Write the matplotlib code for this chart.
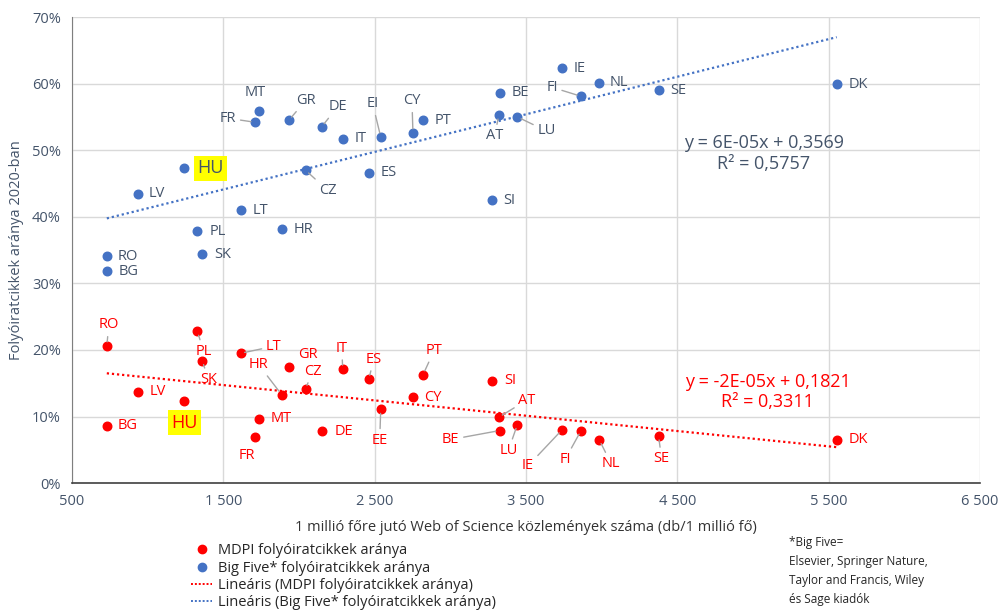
import numpy as np
import matplotlib.pyplot as plt
from matplotlib.lines import Line2D

plt.rcParams['font.family'] = ['Open Sans', 'DejaVu Sans']

# countries (same order for both series); Estonia is labelled "EI" in the Big Five series
countries = ['RO', 'BG', 'LV', 'HU', 'PL', 'SK', 'LT', 'FR', 'MT', 'HR', 'GR', 'CZ', 'DE', 'IT',
             'ES', 'EE', 'CY', 'PT', 'SI', 'AT', 'BE', 'LU', 'IE', 'FI', 'NL', 'SE', 'DK']
big5_labels = ['RO', 'BG', 'LV', 'HU', 'PL', 'SK', 'LT', 'FR', 'MT', 'HR', 'GR', 'CZ', 'DE', 'IT',
               'ES', 'EI', 'CY', 'PT', 'SI', 'AT', 'BE', 'LU', 'IE', 'FI', 'NL', 'SE', 'DK']
# Web of Science publications per million inhabitants
wos = [730, 730, 937, 1243, 1329, 1361, 1614, 1710, 1733, 1885, 1933, 2043, 2149, 2289,
       2461, 2540, 2753, 2820, 3278, 3320, 3327, 3443, 3738, 3864, 3984, 4376, 5553]
mdpi = [0.206, 0.086, 0.137, 0.124, 0.228, 0.184, 0.195, 0.069, 0.097, 0.133, 0.175, 0.141, 0.078, 0.171,
        0.156, 0.111, 0.129, 0.163, 0.154, 0.099, 0.079, 0.088, 0.080, 0.079, 0.065, 0.071, 0.065]
big5 = [0.341, 0.318, 0.435, 0.473, 0.378, 0.344, 0.410, 0.542, 0.559, 0.381, 0.545, 0.470, 0.535, 0.517,
        0.466, 0.520, 0.526, 0.545, 0.425, 0.553, 0.586, 0.550, 0.623, 0.581, 0.601, 0.590, 0.599]

x_ticks = [500, 1500, 2500, 3500, 4500, 5500, 6500]
y_ticks = [0, 0.1, 0.2, 0.3, 0.4, 0.5, 0.6, 0.7]

# label offsets in pixels (dx right, dy down) and whether a leader line is drawn
big5_off = {
    'RO': (21, 0, 0), 'BG': (22, 0, 0), 'LV': (19, 0, 0), 'HU': (26, 0, 0), 'PL': (20, 0, 0),
    'SK': (20, 0, 0), 'LT': (20, 0, 0), 'FR': (-27, -4, 1), 'MT': (-3, -18, 0), 'HR': (22, 0, 0),
    'GR': (17, -20, 1), 'CZ': (22, 20, 1), 'DE': (16, -20, 1), 'IT': (18, 0, 0), 'ES': (20, 0, 0),
    'EI': (-8, -33, 1), 'CY': (-1, -32, 1), 'PT': (20, 0, 0), 'SI': (17, 0, 0), 'AT': (-4, 21, 1),
    'BE': (21, 0, 0), 'LU': (29, 14, 1), 'IE': (18, 0, 0), 'FI': (-29, -9, 1), 'NL': (20, 0, 0),
    'SE': (20, 0, 0), 'DK': (22, 0, 0),
}
mdpi_off = {
    'RO': (2, -21, 1), 'BG': (21, 0, 0), 'LV': (20, 0, 0), 'HU': (0, 22, 0), 'PL': (6, 20, 1),
    'SK': (6, 19, 1), 'LT': (33, -7, 1), 'FR': (-8, 18, 0), 'MT': (23, 0, 0), 'HR': (-23, -30, 1),
    'GR': (19, -12, 0), 'CZ': (7, -18, 1), 'DE': (22, 0, 0), 'IT': (-1, -21, 1), 'ES': (5, -20, 1),
    'EE': (-1, 31, 1), 'CY': (20, 0, 0), 'PT': (11, -24, 1), 'SI': (18, 0, 0), 'AT': (28, -17, 1),
    'BE': (-49, 9, 1), 'LU': (-9, 26, 1), 'IE': (-34, 36, 1), 'FI': (-16, 29, 1), 'NL': (12, 24, 1),
    'SE': (3, 23, 1), 'DK': (22, 0, 0),
}

BLUE = '#4472c4'
RED = '#ff0000'
BLUE_TXT = '#44546a'
GRID = '#d9d9d9'

fig = plt.figure(figsize=(10, 6.1), dpi=100)
ax = fig.add_axes([0.072, 0.208, 0.908, 0.764])

x = np.array(wos, dtype=float)

ax.scatter(x, mdpi, s=38, color=RED, zorder=3)
ax.scatter(x, big5, s=38, color=BLUE, zorder=3)

# linear trend lines
xs = np.array([x.min(), x.max()])
for vals, col in [(mdpi, RED), (big5, BLUE)]:
    k, b = np.polyfit(x, vals, 1)
    ax.plot(xs, k * xs + b, color=col, lw=1.6, ls=(0, (1, 1.3)), zorder=2)


def label(names, vals, offs, col):
    for name, xv, yv in zip(names, x, vals):
        dx, dy, lead = offs[name]
        kw = dict(textcoords='offset pixels', xytext=(dx, -dy), ha='center', va='center',
                  color=col, fontsize=10.5, zorder=4)
        if lead:
            kw['arrowprops'] = dict(arrowstyle='-', color='#a6a6a6', lw=1.0, shrinkA=1, shrinkB=3)
        if name == 'HU':
            kw['fontsize'] = 13
            kw['bbox'] = dict(boxstyle='square,pad=0.2', fc='#ffff00', ec='none')
        ax.annotate(name, (xv, yv), **kw)


label(big5_labels, big5, big5_off, BLUE_TXT)
label(countries, mdpi, mdpi_off, RED)

ax.text(5070, 0.495, 'y = 6E-05x + 0,3569\nR² = 0,5757', color=BLUE_TXT, fontsize=13,
        ha='center', va='center', linespacing=1.2)
ax.text(5096, 0.137, 'y = -2E-05x + 0,1821\nR² = 0,3311', color=RED, fontsize=13,
        ha='center', va='center', linespacing=1.2)

ax.set_xlim(500, 6500)
ax.set_ylim(0, 0.7)
ax.set_xticks(x_ticks)
ax.set_xticklabels([f'{v:,}'.replace(',', ' ') for v in x_ticks])
ax.set_yticks(y_ticks)
ax.set_yticklabels([f'{round(v * 100)}%' for v in y_ticks])
ax.tick_params(length=0, colors=BLUE_TXT, labelsize=10.5, pad=8)
ax.grid(True, color=GRID, lw=1)
ax.set_axisbelow(True)
for s in ['top', 'right']:
    ax.spines[s].set_visible(False)
ax.spines['left'].set_color('#7f7f7f')
ax.spines['bottom'].set_color('#404040')
ax.spines['bottom'].set_linewidth(1.2)

ax.set_xlabel('1 millió főre jutó Web of Science közlemények száma (db/1 millió fő)',
              color='#333333', fontsize=10.5, labelpad=8)
ax.set_ylabel('Folyóiratcikkek aránya 2020-ban', color=BLUE_TXT, fontsize=10.5, labelpad=6)

handles = [
    Line2D([], [], ls='none', marker='o', ms=6, color=RED),
    Line2D([], [], ls='none', marker='o', ms=6, color=BLUE),
    Line2D([], [], color=RED, lw=1.4, ls=(0, (1, 1))),
    Line2D([], [], color=BLUE, lw=1.4, ls=(0, (1, 1))),
]
names = ['MDPI folyóiratcikkek aránya', 'Big Five* folyóiratcikkek aránya',
         'Lineáris (MDPI folyóiratcikkek aránya)', 'Lineáris (Big Five* folyóiratcikkek aránya)']
fig.legend(handles, names, loc='upper left', bbox_to_anchor=(0.184, 0.121), frameon=False,
           fontsize=10.5, handlelength=1.4, handletextpad=0.45, labelspacing=0.15,
           borderpad=0, labelcolor='#262626')

fig.text(0.789, 0.121, '*Big Five=\nElsevier, Springer Nature,\nTaylor and Francis, Wiley\nés Sage kiadók',
         fontsize=8.5, color='#262626', va='top', linespacing=1.6)

fig.savefig('out.png', dpi=100)
